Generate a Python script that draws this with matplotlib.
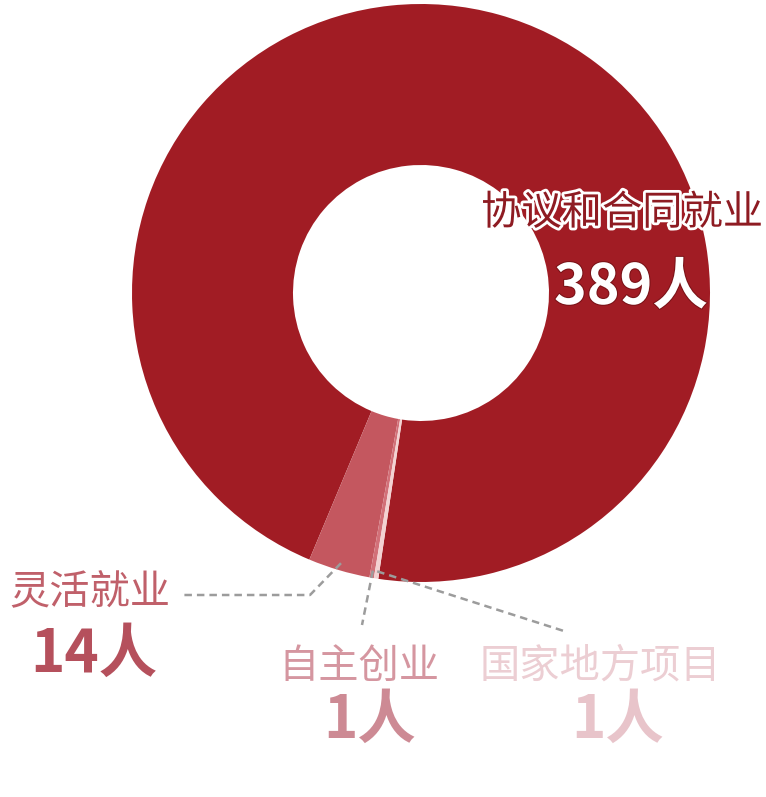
import numpy as np
import matplotlib
matplotlib.use("Agg")
import matplotlib.pyplot as plt
import matplotlib.patheffects as pe

plt.rcParams['font.family'] = ['Noto Sans CJK SC', 'DejaVu Sans']

# 毕业去向人数
categories = ['协议和合同就业', '灵活就业', '自主创业', '国家地方项目']
counts = [389, 14, 1, 1]
count_labels = [f"{n}人" for n in counts]

wedge_colors = ['#a11c24', '#c4575f', '#d27078', '#f3d2d2']
name_colors = ['#8e1b22', '#c0606a', '#d596a0', '#ecced3']
num_colors = ['white', '#b5505c', '#cd8a94', '#e8c4ca']

W, H = 766, 797
fig = plt.figure(figsize=(W / 100, H / 100), dpi=100)
ax = fig.add_axes([0, 0, 1, 1])

cx, cy = 421, H - 293
R, r_in = 289, 128
wedges, _ = ax.pie(counts, colors=wedge_colors, startangle=261.5,
                   counterclock=True, center=(cx, cy), radius=R,
                   wedgeprops=dict(width=R - r_in, linewidth=0))
ax.set_xlim(0, W)
ax.set_ylim(0, H)
ax.set_aspect('equal')
ax.axis('off')


def rim_point(w, frac=0.975):
    th = np.deg2rad((w.theta1 + w.theta2) / 2)
    return cx + R * frac * np.cos(th), cy + R * frac * np.sin(th)


# leader lines for the small slices
leaders = {
    1: [(310, H - 595), (183, H - 595)],
    2: [(362, H - 625)],
    3: [(567, H - 632)],
}
for i, pts in leaders.items():
    x0, y0 = rim_point(wedges[i])
    xs = [x0] + [p[0] for p in pts]
    ys = [y0] + [p[1] for p in pts]
    ax.plot(xs, ys, color='#9c9c9c', lw=1.8, ls=(0, (3, 2)))

# labels: (name position, number position)
label_pos = [
    ((622, 213), (631, 288)),
    ((90, 593), (94, 655)),
    ((359, 666), (370, 721)),
    ((600, 666), (618, 721)),
]
for i, ((nx, ny), (vx, vy)) in enumerate(label_pos):
    if i == 0:
        ax.text(nx, H - ny, categories[i], color=name_colors[i], fontsize=29,
                ha='center', va='center',
                path_effects=[pe.withStroke(linewidth=4, foreground='white')])
        ax.text(vx, H - vy, count_labels[i], color=num_colors[i], fontsize=40,
                fontweight='bold', ha='center', va='center',
                path_effects=[pe.withStroke(linewidth=1.5, foreground='#7a1217')])
    else:
        ax.text(nx, H - ny, categories[i], color=name_colors[i], fontsize=29,
                ha='center', va='center')
        ax.text(vx, H - vy, count_labels[i], color=num_colors[i], fontsize=42,
                fontweight='bold', ha='center', va='center')

fig.savefig('out.png', dpi=100, facecolor='white')
